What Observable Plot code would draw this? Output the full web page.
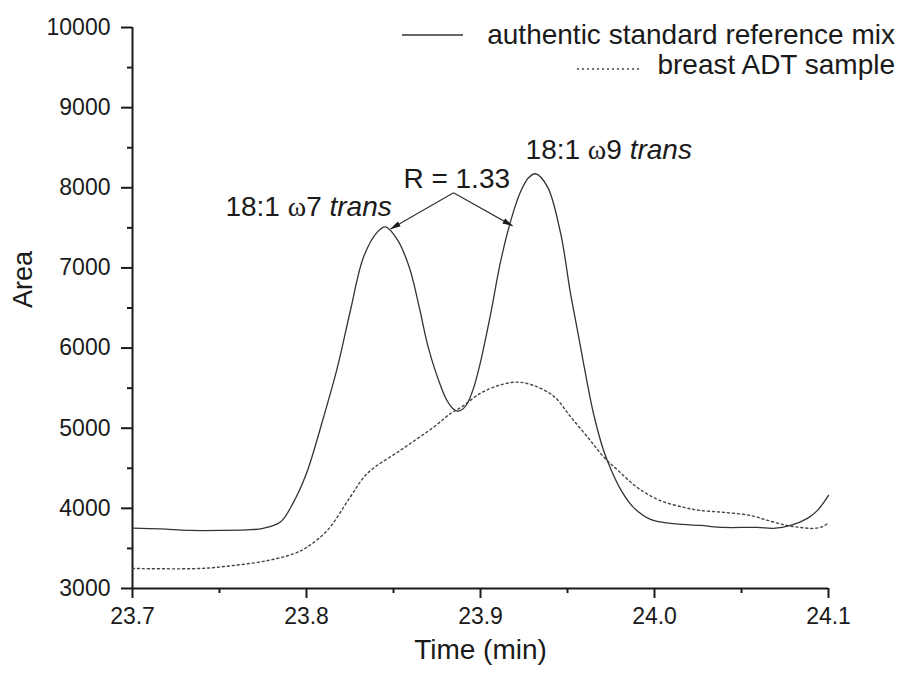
<!DOCTYPE html>
<html>
<head>
<meta charset="utf-8">
<script src="https://cdn.jsdelivr.net/npm/d3@7"></script>
<script src="https://cdn.jsdelivr.net/npm/@observablehq/plot@0.6"></script>
<style>
  html, body { margin: 0; padding: 0; background: #fff; }
  #chart { width: 901px; height: 673px; }
  text { white-space: pre; }
</style>
</head>
<body>
<div id="chart"></div>
<script>
// ---- Data ----
const seriesNames = ["authentic standard reference mix", "breast ADT sample"];

const stdTime = [23.700, 23.716, 23.733, 23.751, 23.768, 23.775, 23.785, 23.7925, 23.800, 23.8098, 23.8178, 23.8253, 23.8328, 23.8408, 23.8454, 23.8523, 23.8592, 23.8649, 23.8701, 23.8776, 23.8810, 23.8839, 23.8868, 23.8897, 23.8925, 23.8960, 23.900, 23.9057, 23.9115, 23.9172, 23.923, 23.9276, 23.9316, 23.9385, 23.946, 23.9517, 23.9557, 23.9592, 23.9649, 23.9707, 23.9747, 23.9805, 23.9879, 23.9977, 24.0092, 24.0264, 24.0397, 24.0592, 24.0684, 24.0782, 24.0879, 24.0937, 24.100];
const stdArea = [3754, 3744, 3725, 3725, 3734, 3750, 3829, 4075, 4437, 5137, 5762, 6475, 7137, 7450, 7512, 7350, 7000, 6500, 6000, 5500, 5337, 5250, 5212, 5237, 5312, 5500, 5825, 6412, 7075, 7575, 7950, 8125, 8175, 8012, 7437, 6687, 6225, 5812, 5187, 4725, 4500, 4237, 4012, 3862, 3812, 3787, 3762, 3762, 3750, 3787, 3875, 3975, 4162];

const adtTime = [23.700, 23.739, 23.758, 23.778, 23.793, 23.800, 23.812, 23.825, 23.835, 23.854, 23.873, 23.883, 23.889, 23.900, 23.911, 23.921, 23.930, 23.942, 23.952, 23.963, 23.971, 23.979, 23.990, 24.003, 24.017, 24.026, 24.040, 24.055, 24.065, 24.076, 24.084, 24.091, 24.097, 24.100];
const adtArea = [3250, 3250, 3287, 3350, 3437, 3512, 3725, 4137, 4437, 4725, 5012, 5187, 5262, 5437, 5537, 5575, 5537, 5400, 5137, 4850, 4637, 4475, 4262, 4100, 4012, 3975, 3950, 3912, 3850, 3787, 3762, 3750, 3775, 3825];

const xTicks = [23.7, 23.8, 23.9, 24.0, 24.1];
const xMinorTicks = [23.75, 23.85, 23.95, 24.05];
const yTicks = [3000, 4000, 5000, 6000, 7000, 8000, 9000, 10000];
const yMinorTicks = [3500, 4500, 5500, 6500, 7500, 8500, 9500];

const labelTexts = ["18:1 ω7 trans", "R = 1.33", "18:1 ω9 trans"];
const labelTime = [23.7534, 23.8557, 23.9259];
const labelArea = [7762, 8112, 8475];

const arrowFromTime = [23.8845, 23.8845];
const arrowFromArea = [7937, 7937];
const arrowToTime = [23.8483, 23.9184];
const arrowToArea = [7487, 7525];

const xTitle = "Time (min)";
const yTitle = "Area";

// ---- Tables built from the arrays ----
const stdData = stdTime.map((t, i) => ({t, a: stdArea[i]}));
const adtData = adtTime.map((t, i) => ({t, a: adtArea[i]}));
const labels = labelTexts.map((s, i) => ({s, t: labelTime[i], a: labelArea[i]}));
const arrows = arrowToTime.map((t, i) => ({t1: arrowFromTime[i], a1: arrowFromArea[i], t2: t, a2: arrowToArea[i]}));

const FONT = "'Liberation Sans', Arial, Helvetica, sans-serif";
const INK = "#1a1a1a";

const chart = Plot.plot({
  width: 901,
  height: 673,
  marginLeft: 132,
  marginRight: 73,
  marginTop: 27,
  marginBottom: 85,
  x: {domain: [23.7, 24.1]},
  y: {domain: [3000, 10000]},
  style: {fontFamily: FONT, color: INK, background: "white", overflow: "visible"},
  marks: [
    Plot.axisX(xTicks, {tickSize: 10, tickPadding: 9, tickFormat: d3.format(".1f"), fontSize: 23, label: null, stroke: INK, strokeWidth: 2}),
    Plot.axisX(xMinorTicks, {tickSize: 5, fill: null, label: null, stroke: INK, strokeWidth: 2}),
    Plot.axisY(yTicks, {tickSize: 11, tickPadding: 11, tickFormat: d3.format("d"), fontSize: 23, label: null, stroke: INK, strokeWidth: 2}),
    Plot.axisY(yMinorTicks, {tickSize: 5, fill: null, label: null, stroke: INK, strokeWidth: 2}),
    Plot.ruleX([23.7], {stroke: INK, strokeWidth: 2}),
    Plot.ruleY([3000], {stroke: INK, strokeWidth: 2}),
    Plot.line(adtData, {x: "t", y: "a", curve: "catmull-rom", stroke: "#444", strokeWidth: 1.4, strokeDasharray: "2,3"}),
    Plot.line(stdData, {x: "t", y: "a", curve: "catmull-rom", stroke: "#333", strokeWidth: 1.3}),
    Plot.link(arrows, {x1: "t1", y1: "a1", x2: "t2", y2: "a2", stroke: "#333", strokeWidth: 1.2, markerEnd: "arrow"}),
    Plot.text(labels, {x: "t", y: "a", text: "s", textAnchor: "start", fontSize: 28, fill: INK}),
    Plot.text([yTitle], {frameAnchor: "left", dx: -109, rotate: -90, fontSize: 27, fill: INK}),
    Plot.text([xTitle], {frameAnchor: "bottom", dy: 70, fontSize: 28, fill: INK})
  ]
});

document.getElementById("chart").appendChild(chart);

const svg = d3.select(chart);

// filled arrow heads
svg.selectAll("marker").each(function () {
  const m = d3.select(this);
  m.attr("viewBox", "-11 -4 12 8")
    .attr("markerWidth", 12)
    .attr("markerHeight", 8)
    .attr("markerUnits", "userSpaceOnUse")
    .attr("fill", INK)
    .attr("stroke", "none");
  m.selectAll("path").attr("d", "M-10,-2.8L0.5,0L-10,2.8Z");
});

// rich text for omega labels
svg.selectAll("text").each(function () {
  const t = this.textContent;
  const m = t.match(/^(.*?)(ω)(\S*) (\S+)$/);
  if (!m) return;
  const el = d3.select(this);
  el.text(null);
  el.append("tspan").text(m[1]);
  el.append("tspan").attr("font-family", "'Liberation Serif', 'DejaVu Serif', serif").text(m[2]);
  el.append("tspan").text(m[3] + " ");
  el.append("tspan").attr("font-style", "italic").text(m[4]);
});

// legend
const lg = svg.append("g").attr("font-family", FONT).attr("font-size", 28).attr("fill", INK);
lg.append("line").attr("x1", 402).attr("x2", 463).attr("y1", 35).attr("y2", 35)
  .attr("stroke", "#333").attr("stroke-width", 1.3);
lg.append("text").attr("x", 895).attr("y", 44).attr("text-anchor", "end").text(seriesNames[0]);
lg.append("line").attr("x1", 577).attr("x2", 640).attr("y1", 69).attr("y2", 69)
  .attr("stroke", "#444").attr("stroke-width", 1.4).attr("stroke-dasharray", "2,3");
lg.append("text").attr("x", 895).attr("y", 74).attr("text-anchor", "end").text(seriesNames[1]);
</script>
</body>
</html>
